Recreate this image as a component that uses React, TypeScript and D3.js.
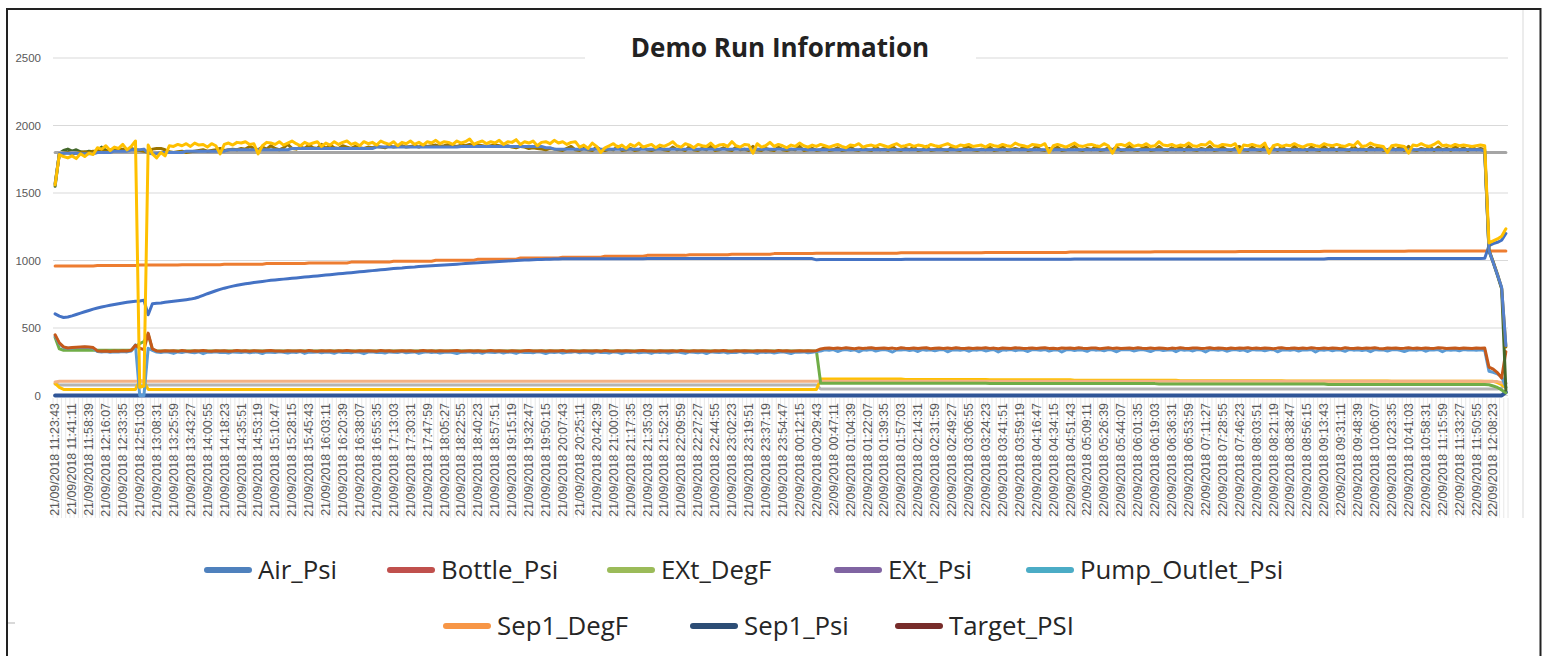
import React from 'react';
import * as d3 from 'd3';

// run-length helper: [[value, count], ...] -> flat values
const rle = (runs: number[][]) => runs.flatMap(([v, n]) => Array(n).fill(v));

const title = 'Demo Run Information';
const yTicks = [0, 500, 1000, 1500, 2000, 2500];
const LABEL_EVERY = 4;

const tickLabels = [
  '21/09/2018 11:23:43', '21/09/2018 11:41:11', '21/09/2018 11:58:39', '21/09/2018 12:16:07', '21/09/2018 12:33:35',
  '21/09/2018 12:51:03', '21/09/2018 13:08:31', '21/09/2018 13:25:59', '21/09/2018 13:43:27', '21/09/2018 14:00:55',
  '21/09/2018 14:18:23', '21/09/2018 14:35:51', '21/09/2018 14:53:19', '21/09/2018 15:10:47', '21/09/2018 15:28:15',
  '21/09/2018 15:45:43', '21/09/2018 16:03:11', '21/09/2018 16:20:39', '21/09/2018 16:38:07', '21/09/2018 16:55:35',
  '21/09/2018 17:13:03', '21/09/2018 17:30:31', '21/09/2018 17:47:59', '21/09/2018 18:05:27', '21/09/2018 18:22:55',
  '21/09/2018 18:40:23', '21/09/2018 18:57:51', '21/09/2018 19:15:19', '21/09/2018 19:32:47', '21/09/2018 19:50:15',
  '21/09/2018 20:07:43', '21/09/2018 20:25:11', '21/09/2018 20:42:39', '21/09/2018 21:00:07', '21/09/2018 21:17:35',
  '21/09/2018 21:35:03', '21/09/2018 21:52:31', '21/09/2018 22:09:59', '21/09/2018 22:27:27', '21/09/2018 22:44:55',
  '21/09/2018 23:02:23', '21/09/2018 23:19:51', '21/09/2018 23:37:19', '21/09/2018 23:54:47', '22/09/2018 00:12:15',
  '22/09/2018 00:29:43', '22/09/2018 00:47:11', '22/09/2018 01:04:39', '22/09/2018 01:22:07', '22/09/2018 01:39:35',
  '22/09/2018 01:57:03', '22/09/2018 02:14:31', '22/09/2018 02:31:59', '22/09/2018 02:49:27', '22/09/2018 03:06:55',
  '22/09/2018 03:24:23', '22/09/2018 03:41:51', '22/09/2018 03:59:19', '22/09/2018 04:16:47', '22/09/2018 04:34:15',
  '22/09/2018 04:51:43', '22/09/2018 05:09:11', '22/09/2018 05:26:39', '22/09/2018 05:44:07', '22/09/2018 06:01:35',
  '22/09/2018 06:19:03', '22/09/2018 06:36:31', '22/09/2018 06:53:59', '22/09/2018 07:11:27', '22/09/2018 07:28:55',
  '22/09/2018 07:46:23', '22/09/2018 08:03:51', '22/09/2018 08:21:19', '22/09/2018 08:38:47', '22/09/2018 08:56:15',
  '22/09/2018 09:13:43', '22/09/2018 09:31:11', '22/09/2018 09:48:39', '22/09/2018 10:06:07', '22/09/2018 10:23:35',
  '22/09/2018 10:41:03', '22/09/2018 10:58:31', '22/09/2018 11:15:59', '22/09/2018 11:33:27', '22/09/2018 11:50:55',
  '22/09/2018 12:08:23',
];

// ---- series values (one value per sample, 344 samples) ----
const grayTop = rle([[1800, 344]]);

const navyZero = rle([[0, 343], [25, 1]]);

const orangeMid = rle([
  [960, 10], [963, 10], [966, 10], [969, 10], [973, 10], [977, 10], [982, 10], [988, 10],
  [995, 10], [1002, 10], [1010, 10], [1018, 10], [1025, 10], [1032, 10], [1038, 10], [1043, 10], [1047, 10], [1051, 10],
  [1054, 20], [1057, 20], [1060, 20], [1063, 20], [1065, 20], [1067, 20], [1069, 20], [1071, 24],
]);

const grayLow = rle([[85, 1], [78, 180], [48, 161], [55, 1], [90, 1]]);

const yellowLow = rle([
  [90, 1], [60, 1], [45, 18], [110, 1], [105, 1], [45, 159],
  [122, 20], [119, 20], [116, 20], [113, 25], [110, 25], [108, 25], [106, 20], [105, 5], [95, 1], [80, 1], [60, 1],
]);

const orangeLow = rle([[100, 1], [105, 337], [103, 4], [95, 1], [90, 1]]);

const greenMid = rle([
  [430, 1], [345, 1], [335, 17], [360, 1], [385, 1], [400, 1], [455, 1], [340, 1], [330, 157],
  [90, 40], [88, 40], [85, 40], [82, 38], [80, 1], [70, 1], [60, 1], [40, 1], [20, 1],
]);

const lightBlueMid = [
  440, 385, 356, 350, 352, 355, 356, 358, 355, 350, 326, 323, 325, 320, 324, 322, 326, 323, 330, 375, 0, 0, 350, 335,
  322, 318, 324, 320, 312, 323, 319, 325, 321, 317, 323, 310, 322, 320, 324, 318, 321, 314, 323, 320,
  319, 324, 316, 322, 320, 311, 323, 321, 318, 324, 320, 315, 322, 319, 325, 312, 321, 320, 323, 317,
  322, 320, 313, 324, 319, 321, 316, 323, 320, 310, 322, 324, 318, 321, 314, 323, 320, 319, 325, 316,
  321, 323, 312, 320, 324, 318, 322, 315, 321, 323, 319, 311, 322, 320, 324, 317, 321, 313, 323, 320,
  318, 324, 315, 322, 320, 312, 323, 319, 321, 316, 324, 320, 311, 322, 319, 323, 314, 321, 320, 325,
  317, 322, 320, 313, 324, 318, 321, 315, 323, 320, 310, 322, 319, 324, 316, 321, 320, 312, 323, 318,
  322, 315, 321, 324, 319, 312, 323, 320, 317, 322, 311, 324, 320, 318, 323, 314, 321, 319, 325, 316,
  321, 320, 312, 323, 318, 322, 315, 321, 324, 319, 311, 322, 320, 323, 316, 321, 325,
  330, 338, 335, 340, 326, 337, 341, 334, 339, 324, 338, 336, 341, 329, 337, 340, 335, 322, 339, 337,
  341, 333, 338, 326, 340, 336, 339, 331, 338, 341, 324, 337, 339, 335, 340, 328, 338, 336, 341, 330,
  337, 340, 323, 338, 336, 341, 332, 339, 337, 326, 340, 338, 335, 341, 329, 337, 339, 322, 338, 340,
  334, 339, 337, 327, 341, 336, 338, 331, 340, 337, 324, 339, 338, 341, 330, 337, 340, 335, 326, 338,
  341, 333, 337, 339, 325, 340, 336, 338, 330, 341, 337, 323, 339, 338, 335, 340, 328, 337, 341, 334,
  338, 326, 340, 337, 339, 332, 338, 341, 324, 337, 339, 336, 340, 329, 338, 337, 341, 322, 339, 336,
  340, 331, 338, 337, 327, 341, 336, 339, 334, 338, 325, 340, 337, 339, 330, 338, 341, 335, 326, 337,
  339, 336, 341, 328, 338, 337, 340, 324, 339, 336, 338, 331, 340, 337, 339, 335, 338, 334,
  180, 172, 160, 140, 60,
];

const redMid = [
  450, 390, 360, 352, 355, 358, 360, 362, 360, 355, 330, 328, 330, 326, 330, 328, 332, 330, 335, 372, 350, 340, 462, 345,
  330, 328, 332, 329, 331, 327, 333, 330, 328, 331, 329, 334, 330, 327, 331, 329, 332, 328, 330, 333,
  329, 331, 328, 332, 330, 327, 331, 333, 329, 330, 328, 332, 330, 329, 331, 327, 333, 330, 328, 331,
  330, 332, 328, 331, 329, 333, 330, 327, 331, 329, 332, 330, 328, 334, 329, 331, 327, 330, 332, 329,
  331, 328, 330, 333, 329, 331, 327, 332, 330, 329, 331, 333, 328, 330, 332, 329, 331, 328, 330, 333,
  329, 331, 330, 327, 332, 330, 328, 331, 333, 329, 330, 332, 328, 331, 329, 330, 333, 327, 331, 330,
  328, 332, 330, 329, 331, 327, 333, 330, 328, 331, 329, 332, 330, 328, 331, 333, 329, 330, 327, 332,
  330, 329, 331, 328, 333, 330, 327, 331, 329, 332, 330, 328, 331, 329, 333, 330, 328, 332, 329, 331,
  330, 328, 332, 329, 331, 330, 327, 333, 329, 331, 328, 330, 332, 329, 331, 330, 332,
  345, 350, 352, 348, 351, 349, 353, 350, 347, 352, 349, 351, 354, 348, 350, 352, 349, 351, 347, 353,
  350, 348, 352, 349, 351, 353, 347, 350, 352, 349, 351, 348, 354, 350, 349, 352, 348, 351, 350, 353,
  349, 351, 347, 352, 350, 348, 353, 351, 349, 350, 352, 348, 351, 354, 349, 350, 347, 352, 350, 351,
  348, 353, 350, 349, 351, 352, 347, 350, 353, 349, 351, 348, 350, 352, 349, 354, 350, 348, 351, 349,
  352, 350, 347, 351, 349, 353, 350, 348, 352, 351, 349, 350, 354, 348, 351, 350, 347, 352, 349, 351,
  350, 353, 348, 351, 349, 352, 350, 347, 351, 353, 349, 350, 352, 348, 351, 349, 354, 350, 348, 352,
  349, 351, 350, 347, 353, 350, 349, 352, 348, 351, 350, 353, 349, 347, 352, 350, 351, 348, 350, 353,
  349, 351, 348, 352, 350, 349, 353, 351, 348, 350, 352, 349, 351, 350, 348, 352, 350, 351,
  210, 195, 170, 130, 325,
];

const airBlue = [
  605, 588, 578, 582, 590, 600, 610, 620, 630, 640, 648, 655, 662, 668, 674, 680, 685, 690, 694, 698,
  700, 705, 598, 680, 683, 686, 690, 694, 698, 702, 706, 710, 714, 720, 730, 742, 754, 765, 776, 786,
  795, 803, 810, 816, 822, 827, 832, 837, 841, 845, 849, 853, 856, 859, 862, 865, 868, 871, 874, 877,
  880, 883, 886, 889, 892, 895, 898, 901, 904, 907, 910, 913, 916, 919, 922, 925, 928, 931, 934, 937,
  940, 943, 945, 948, 950, 952, 955, 957, 959, 961, 963, 965, 967, 969, 971, 973, 975, 977, 979, 981,
  983, 985, 987, 989, 991, 993, 995, 997, 999, 1000, 1002, 1003, 1004, 1006, 1007, 1008, 1009, 1010, 1011, 1012,
  ...rle([[1013, 20], [1014, 40], [1005, 1], [1008, 20], [1010, 40], [1012, 60], [1014, 37], [1016, 1]]),
  1110, 1125, 1135, 1150, 1200,
];

const blueTop = rle([
  [1565, 1], [1790, 1], [1795, 4], [1790, 4], [1800, 4], [1810, 4], [1820, 3],
  [1825, 1], [1795, 1], [1790, 2], [1800, 6], [1810, 10], [1820, 15], [1830, 20], [1840, 20], [1845, 20],
  [1835, 2], [1825, 60], [1820, 160], [1810, 1],
  [1075, 1], [985, 1], [895, 1], [800, 1], [370, 1],
]);

const greenTop = [
  1550, 1795, 1815, 1825, 1810, 1820, 1805, 1800, 1810, 1805, 1815, 1840, 1815,
  ...rle([[1800, 326]]),
  1070, 985, 890, 790, 40,
];

const oliveTop = [
  1570, 1790, 1795, 1800, 1790, 1795, 1800, 1805, 1800, 1810, 1805, 1815, 1810, 1820, 1815, 1820, 1825, 1820, 1830, 1820, 1815, 1810,
  1800, 1825, 1830, 1830, 1820, 1805, 1800, 1805, 1810, 1800, 1805, 1810, 1815, 1820, 1810, 1815, 1820, 1830, 1815, 1820, 1825, 1820,
  1830, 1825, 1845, 1830, 1820, 1840, 1825, 1850, 1830, 1820, 1835, 1860, 1830, 1825, 1840, 1830, 1855, 1835, 1830, 1860,
  1830, 1855, 1835, 1830, 1850, 1840, 1830, 1845, 1835, 1830, 1840, 1835, 1845, 1840, 1835, 1850, 1840, 1845, 1850, 1840,
  1845, 1850, 1840, 1855, 1845, 1850, 1855, 1845, 1850, 1860, 1850, 1845, 1855, 1850, 1860, 1850, 1855, 1850, 1845, 1850,
  1855, 1850, 1845, 1850, 1840, 1835, 1845, 1840, 1830, 1835, 1830, 1825, 1820, 1830, 1825, 1820, 1815, 1830, 1845, 1820,
  1815, 1830, 1820, 1815, 1840, 1820, 1815, 1825, 1820, 1845, 1815, 1820, 1830, 1815, 1820, 1840, 1820, 1815, 1825, 1830,
  1820, 1815, 1840, 1820, 1825, 1815, 1845, 1820, 1815, 1830, 1820, 1845, 1815, 1820, 1835, 1820, 1815, 1840, 1820, 1825,
  1815, 1845, 1820, 1815, 1830, 1820, 1815, 1840, 1820, 1815, 1825, 1820, 1845, 1815, 1820, 1830, 1815, 1820, 1840, 1815,
  1820, 1835, 1815, 1820, 1845, 1820, 1815, 1830, 1820, 1815, 1840, 1820, 1825, 1815, 1845, 1820, 1815, 1830, 1820, 1840,
  1815, 1820, 1845, 1815, 1820, 1835, 1820, 1815, 1840, 1820, 1815, 1830, 1845, 1820, 1815, 1825, 1820, 1840, 1815, 1820,
  1845, 1815, 1820, 1830, 1820, 1840, 1815, 1820, 1845, 1820, 1815, 1830, 1820, 1840, 1815, 1820, 1825, 1845, 1820, 1815,
  1830, 1820, 1845, 1815, 1820, 1835, 1820, 1840, 1815, 1820, 1845, 1820, 1815, 1830, 1840, 1815, 1820, 1845, 1820, 1815,
  1835, 1820, 1840, 1815, 1845, 1820, 1815, 1830, 1820, 1845, 1815, 1820, 1840, 1820, 1815, 1830, 1845, 1820, 1815, 1840,
  1820, 1815, 1845, 1820, 1830, 1815, 1840, 1820, 1815, 1845, 1820, 1830, 1815, 1840, 1820, 1815, 1845, 1820, 1835, 1815,
  1840, 1820, 1815, 1845, 1820, 1830, 1815, 1840, 1820, 1845, 1815, 1820, 1835, 1820, 1840, 1815, 1845, 1820, 1815, 1830,
  1820, 1845, 1815, 1840, 1820, 1830, 1815, 1845, 1820, 1835, 1815, 1840, 1820, 1830, 1820, 1080, 990, 900, 795, 360,
];

const yellowTop = [
  1560, 1785, 1770, 1760, 1775, 1755, 1790, 1770, 1795, 1785, 1835, 1825, 1850, 1815, 1840, 1830, 1860, 1820, 1845, 1885, 60, 70,
  1855, 1790, 1760, 1800, 1775, 1850, 1845, 1860, 1850, 1865, 1845, 1870, 1855, 1860, 1840, 1865, 1850, 1790, 1860, 1870, 1855, 1875,
  1870, 1880, 1860, 1865, 1790, 1850, 1875, 1870, 1860, 1880, 1855, 1870, 1885, 1865, 1850, 1875, 1860, 1870, 1880, 1845,
  1870, 1855, 1880, 1860, 1875, 1885, 1860, 1870, 1850, 1880, 1865, 1875, 1855, 1885, 1870, 1860, 1880, 1850, 1875, 1865,
  1885, 1860, 1875, 1855, 1880, 1870, 1890, 1865, 1880, 1875, 1860, 1885, 1870, 1880, 1900, 1860, 1875, 1885, 1865, 1880,
  1870, 1890, 1860, 1880, 1875, 1895, 1860, 1880, 1870, 1885, 1850, 1875, 1880, 1865, 1890, 1870, 1880, 1860, 1875, 1880,
  1840, 1855, 1830, 1870, 1845, 1800, 1835, 1850, 1865, 1840, 1855, 1830, 1860, 1845, 1870, 1840, 1850, 1860, 1835, 1855,
  1845, 1860, 1880, 1850, 1840, 1865, 1855, 1835, 1860, 1850, 1845, 1870, 1840, 1855, 1860, 1845, 1880, 1850, 1840, 1860,
  1855, 1795, 1865, 1840, 1850, 1875, 1845, 1860, 1850, 1835, 1855, 1845, 1870, 1850, 1840, 1855, 1845, 1860, 1850, 1840,
  1850, 1860, 1845, 1835, 1855, 1850, 1865, 1840, 1850, 1855, 1845, 1860, 1850, 1840, 1855, 1865, 1845, 1850, 1860, 1845,
  1855, 1850, 1840, 1860, 1850, 1845, 1855, 1865, 1850, 1840, 1855, 1850, 1860, 1845, 1850, 1855, 1840, 1860, 1850, 1845,
  1860, 1850, 1845, 1870, 1855, 1850, 1840, 1860, 1855, 1850, 1865, 1800, 1850, 1860, 1850, 1840, 1855, 1870, 1850, 1845,
  1855, 1860, 1850, 1845, 1865, 1850, 1795, 1855, 1860, 1850, 1870, 1845, 1855, 1850, 1865, 1845, 1850, 1880, 1855, 1850,
  1860, 1845, 1855, 1850, 1870, 1850, 1845, 1860, 1855, 1880, 1850, 1845, 1860, 1855, 1850, 1865, 1800, 1855, 1850, 1860,
  1850, 1845, 1870, 1795, 1850, 1860, 1845, 1855, 1850, 1865, 1850, 1840, 1855, 1860, 1850, 1845, 1865, 1855, 1850, 1860,
  1850, 1845, 1860, 1850, 1880, 1845, 1850, 1870, 1855, 1850, 1845, 1800, 1850, 1855, 1850, 1845, 1795, 1855, 1850, 1865,
  1850, 1845, 1860, 1880, 1850, 1855, 1845, 1860, 1850, 1855, 1850, 1845, 1850, 1855, 1850, 1130, 1145, 1160, 1180, 1235,
];

// drawing order: first = bottom
const plotSeries = [
  { key: 'navyZero', color: '#2F5597', width: 4, values: navyZero },
  { key: 'orangeMid', color: '#ED7D31', width: 3, values: orangeMid },
  { key: 'grayLow', color: '#B4B4B4', width: 3, values: grayLow },
  { key: 'yellowLow', color: '#FFC000', width: 3, values: yellowLow },
  { key: 'orangeLow', color: '#F4B183', width: 3, values: orangeLow },
  { key: 'greenMid', color: '#70AD47', width: 3, values: greenMid },
  { key: 'lightBlueMid', color: '#5B9BD5', width: 3, values: lightBlueMid },
  { key: 'redMid', color: '#C5591A', width: 3, values: redMid },
  { key: 'airBlue', color: '#4472C4', width: 3, values: airBlue },
  { key: 'greenTop', color: '#43682B', width: 3, values: greenTop },
  { key: 'grayTop', color: '#A5A5A5', width: 3, values: grayTop },
  { key: 'oliveTop', color: '#997300', width: 3, values: oliveTop },
  { key: 'blueTop', color: '#5480CC', width: 3, values: blueTop },
  { key: 'yellowTop', color: '#FFC000', width: 3, values: yellowTop },
];

const legendNames = ['Air_Psi', 'Bottle_Psi', 'EXt_DegF', 'EXt_Psi', 'Pump_Outlet_Psi', 'Sep1_DegF', 'Sep1_Psi', 'Target_PSI'];
const legendColors = ['#4F81BD', '#C0504D', '#9BBB59', '#8064A2', '#4BACC6', '#F79646', '#2C4D75', '#772C2A'];
const legendPos = [
  [204, 570], [387, 570], [607, 570], [834, 570], [1026, 570],
  [443, 626], [690, 626], [895, 626],
];

const App = () => {
  const n = grayTop.length;
  const plotLeft = 53, plotRight = 1508;
  const x = d3.scaleBand<number>().domain(d3.range(n)).range([plotLeft, plotRight]).padding(0);
  const cx = (i: number) => (x(i) as number) + x.bandwidth() / 2;
  const y = d3.scaleLinear().domain([0, 2500]).range([395.5, 58]);

  const line = d3.line<number>()
    .x((d, i) => cx(i))
    .y(d => y(d));

  const axisFont = '"Liberation Sans", Arial, sans-serif';
  const labelTop = 403;

  return (
    <div style={{ position: 'absolute', left: 0, top: 0 }}>
      <svg width={1544} height={656} style={{ display: 'block', background: '#fff' }}>
        {/* frame */}
        <line x1={7} y1={9} x2={1541} y2={9} stroke='#222' strokeWidth={2} />
        <line x1={7} y1={8} x2={7} y2={656} stroke='#222' strokeWidth={2} />
        <line x1={1540.5} y1={8} x2={1540.5} y2={656} stroke='#222' strokeWidth={2} />
        <line x1={1523} y1={10} x2={1523} y2={518} stroke='#D9D9D9' strokeWidth={1} />
        <line x1={8} y1={623} x2={15} y2={623} stroke='#D9D9D9' strokeWidth={2} />

        {/* gridlines */}
        {yTicks.map(t => (
          <line key={t} x1={plotLeft} x2={plotRight} y1={y(t)} y2={y(t)} stroke='#D9D9D9' strokeWidth={1} />
        ))}
        {yTicks.map(t => (
          <text key={'l' + t} x={41} y={y(t)} dy='0.35em' textAnchor='end'
            style={{ fontFamily: axisFont, fontSize: '11.5px', fill: '#595959' }}>{t}</text>
        ))}

        {/* category separators in the label band */}
        {d3.range(n + 1).map(k => (
          <line key={'c' + k} x1={plotLeft + k * x.bandwidth()} x2={plotLeft + k * x.bandwidth()}
            y1={398} y2={518} stroke='#E2E2E2' strokeWidth={0.8} />
        ))}

        {/* rotated category labels */}
        {tickLabels.map((lab, k) => {
          const px = cx(k * LABEL_EVERY) + 4.3;
          return (
            <text key={'t' + k} x={px} y={labelTop} textAnchor='end'
              transform={`rotate(-90, ${px}, ${labelTop})`}
              style={{ fontFamily: axisFont, fontSize: '12.4px', fill: '#595959' }}>{lab}</text>
          );
        })}

        {/* series */}
        {plotSeries.map(s => (
          <path key={s.key} d={line(s.values.slice(0, n)) as string} fill='none' stroke={s.color}
            strokeWidth={s.width} strokeLinejoin='round' strokeLinecap='round' />
        ))}

        {/* title */}
        <rect x={585} y={30} width={391} height={40} fill='#fff' />
        <text x={780} y={57} textAnchor='middle'
          style={{ fontFamily: '"Open Sans", sans-serif', fontWeight: 700, fontSize: '26px', fill: '#222' }}>{title}</text>

        {/* legend */}
        {legendNames.map((name, i) => {
          const [lx, ly] = legendPos[i];
          return (
            <g key={name}>
              <line x1={lx + 3} x2={lx + 45} y1={ly} y2={ly} stroke={legendColors[i]} strokeWidth={6} strokeLinecap='round' />
              <text x={lx + 54} y={ly} dy='0.35em'
                style={{ fontFamily: '"Open Sans", sans-serif', fontSize: '25.8px', fill: '#262626' }}>{name}</text>
            </g>
          );
        })}
      </svg>
    </div>
  );
};

export default App;
